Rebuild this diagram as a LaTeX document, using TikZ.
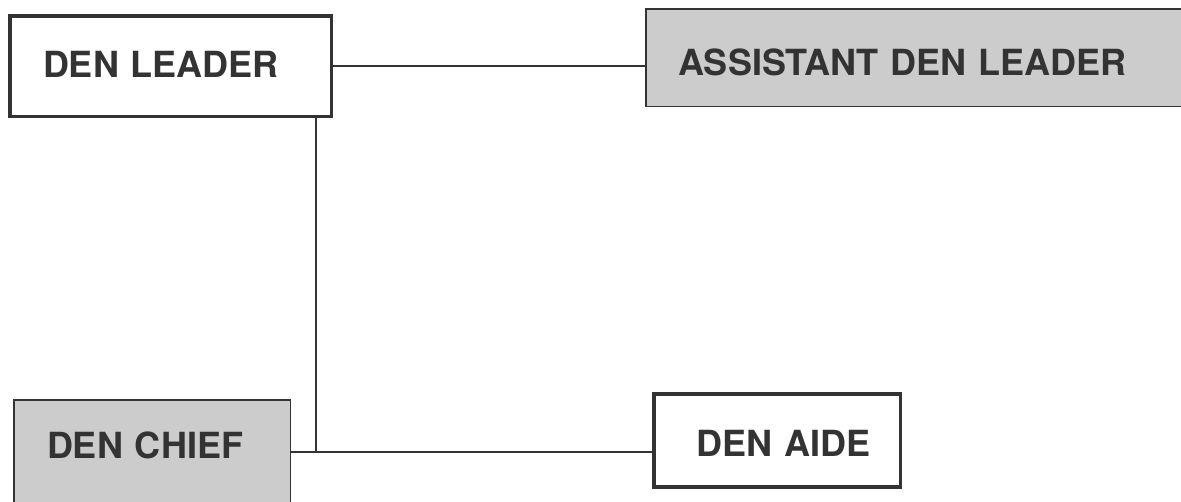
\documentclass[tikz,border=0pt]{standalone}
\usepackage{fontspec}
\setmainfont{TeX Gyre Heros}
\usepackage{tikz}
\usepackage{xcolor}

\definecolor{inkgray}{HTML}{333333}

\begin{document}
\begin{tikzpicture}[
            x = 1pt, y = -1pt, % pixel units, y going down
            line width = 2pt, % line style
            inkgray
        ]

        \tikzstyle{role}=[
            draw = inkgray,
            shape = rectangle,
            outer sep = 0pt,
            inner ysep = 0pt,
            align = left,
            anchor = north west,
            font = \fontsize{36}{40}\selectfont\bfseries
        ]
        \tikzstyle{heavy}=[role, line width = 3.5pt, fill = white]
        \tikzstyle{shaded}=[role, line width = 1.5pt, fill = black!20]

        \useasboundingbox (0,0) rectangle (1181,501);
        \clip (0,0) rectangle (1181,501);

        \node[heavy, inner xsep=33.25pt, text width=255pt, text height=61.25pt, text depth=39.25pt] (leader) at (9.75,15.75) {DEN LEADER};
        \node[shaded, inner xsep=32.25pt, text width=484.75pt, text height=66.25pt, text depth=31.25pt] (asst) at (645.75,8.75) {ASSISTANT DEN LEADER};
        \node[shaded, inner xsep=33.25pt, text width=210pt, text height=58.25pt, text depth=57pt] (chief) at (13.75,399.75) {DEN CHIEF};
        \node[heavy, align=right, inner xsep=30pt, text width=186.5pt, text height=62.25pt, text depth=31pt] (aide) at (653.75,393.75) {DEN AIDE};

        \coordinate (jn) at (316,452);

        \draw (leader.east) -- (leader.east -| asst.west);
        \draw (leader.south -| jn) -- (jn);
        \draw (chief.east |- jn) -- (aide.west |- jn);
    \end{tikzpicture}
\end{document}
